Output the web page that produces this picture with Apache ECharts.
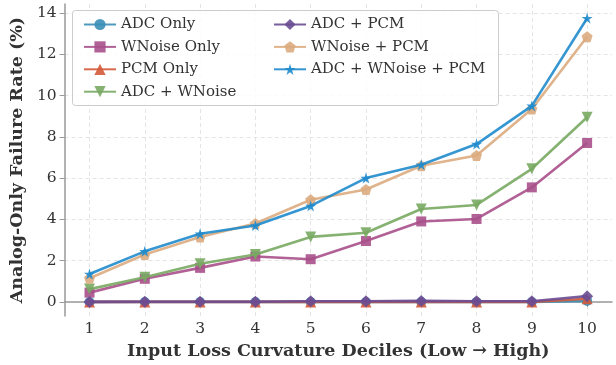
<!DOCTYPE html>
<html><head><meta charset="utf-8">
<script src="https://cdn.jsdelivr.net/npm/echarts@6/dist/echarts.min.js"></script>
<style>html,body{margin:0;padding:0;background:#fff}#c{width:616px;height:365px}</style>
</head><body><div id="c"></div>
<script>
const deciles = [1,2,3,4,5,6,7,8,9,10];
const xTicks = [1,2,3,4,5,6,7,8,9,10];
const yTicks = [0,2,4,6,8,10,12,14];
const adcOnly      = [0.00,0.00,0.00,0.00,0.00,0.00,0.00,0.00,0.00,0.05];
const wnoiseOnly   = [0.45,1.12,1.65,2.20,2.07,2.95,3.90,4.02,5.55,7.70];
const pcmOnly      = [0.00,0.00,0.00,0.00,0.00,0.00,0.00,0.00,0.00,0.15];
const adcWnoise    = [0.62,1.20,1.85,2.30,3.15,3.35,4.50,4.70,6.45,8.95];
const adcPcm       = [0.00,0.01,0.01,0.01,0.03,0.03,0.05,0.03,0.03,0.28];
const wnoisePcm    = [1.15,2.30,3.15,3.80,4.95,5.45,6.60,7.10,9.35,12.85];
const adcWnoisePcm = [1.35,2.45,3.30,3.70,4.65,6.00,6.65,7.65,9.50,13.75];

const seriesNames = ['ADC Only','WNoise Only','PCM Only','ADC + WNoise','ADC + PCM','WNoise + PCM','ADC + WNoise + PCM'];
const seriesData = [adcOnly,wnoiseOnly,pcmOnly,adcWnoise,adcPcm,wnoisePcm,adcWnoisePcm];
const colors = ['#3a8fb7','#a8508a','#d45a3a','#78a862','#6a4c93','#dcab7e','#1f8bcc'];
const pentagon = 'path://M0,-1 L0.951,-0.309 L0.588,0.809 L-0.588,0.809 L-0.951,-0.309 Z';
const star = 'path://M0,-1 L0.2245,-0.309 L0.951,-0.309 L0.363,0.118 L0.588,0.809 L0,0.382 L-0.588,0.809 L-0.363,0.118 L-0.951,-0.309 L-0.2245,-0.309 Z';
const symbols = ['circle','rect','triangle','triangle','diamond',pentagon,star];
const rotates = [0,0,0,180,0,0,0];
const sizes = [10,10,11,11,12,11,11];

const chart = echarts.init(document.getElementById('c'), null, {renderer:'canvas'});
const FONT = '"DejaVu Serif", serif';
const series = seriesNames.map((n,i)=>({
  name:n, type:'line',
  data: deciles.map((d,j)=>[d, seriesData[i][j]]),
  symbol: symbols[i], symbolSize: sizes[i], symbolRotate: rotates[i],
  showSymbol:true,
  lineStyle:{width:2.6, color:colors[i], opacity:0.9},
  itemStyle:{color:colors[i], opacity:0.9},
  z: 2+i
}));
chart.setOption({
  animation:false,
  backgroundColor:'#fff',
  grid:{left:64,right:4,top:4,bottom:47.5,containLabel:false},
  xAxis:{type:'value',min:0.55,max:10.45,
    name:'Input Loss Curvature Deciles (Low \u2192 High)',nameLocation:'middle',nameGap:25,
    nameTextStyle:{fontFamily:FONT,fontWeight:'bold',fontSize:17.5,color:'#333'},
    axisLine:{lineStyle:{color:'#999',width:1.5}},
    axisTick:{show:true,length:5,customValues:xTicks,lineStyle:{color:'#999'}},
    axisLabel:{customValues:xTicks,fontFamily:FONT,fontSize:15.5,color:'#333',margin:5},
    splitLine:{show:true,lineStyle:{type:[4,3],color:'#ddd',width:0.8}}
  },
  yAxis:{type:'value',min:-0.6875,max:14.4375,
    name:'Analog-Only Failure Rate (%)',nameLocation:'middle',nameGap:29,
    nameTextStyle:{fontFamily:FONT,fontWeight:'bold',fontSize:17.5,color:'#333'},
    axisLine:{show:true,lineStyle:{color:'#999',width:1.5}},
    axisTick:{show:true,length:5,customValues:yTicks,lineStyle:{color:'#999'}},
    axisLabel:{customValues:yTicks,fontFamily:FONT,fontSize:15.5,color:'#333',margin:8},
    splitLine:{show:true,lineStyle:{type:[4,3],color:'#ddd',width:0.8}}
  },
  graphic:[{type:'rect',left:72,top:10,z:50,shape:{width:426,height:95,r:3},
    style:{fill:'rgba(255,255,255,0.85)',stroke:'#ccc',lineWidth:1}}],
  legend:[
    {orient:'vertical',left:78,top:12,itemWidth:32,itemHeight:14,itemGap:7.4,z:60,
     data:seriesNames.slice(0,4),textStyle:{fontFamily:FONT,fontSize:15,color:'#333'}},
    {orient:'vertical',left:268,top:12,itemWidth:32,itemHeight:14,itemGap:7.4,z:60,
     data:seriesNames.slice(4),textStyle:{fontFamily:FONT,fontSize:15,color:'#333'}}
  ],
  series
});
</script></body></html>
